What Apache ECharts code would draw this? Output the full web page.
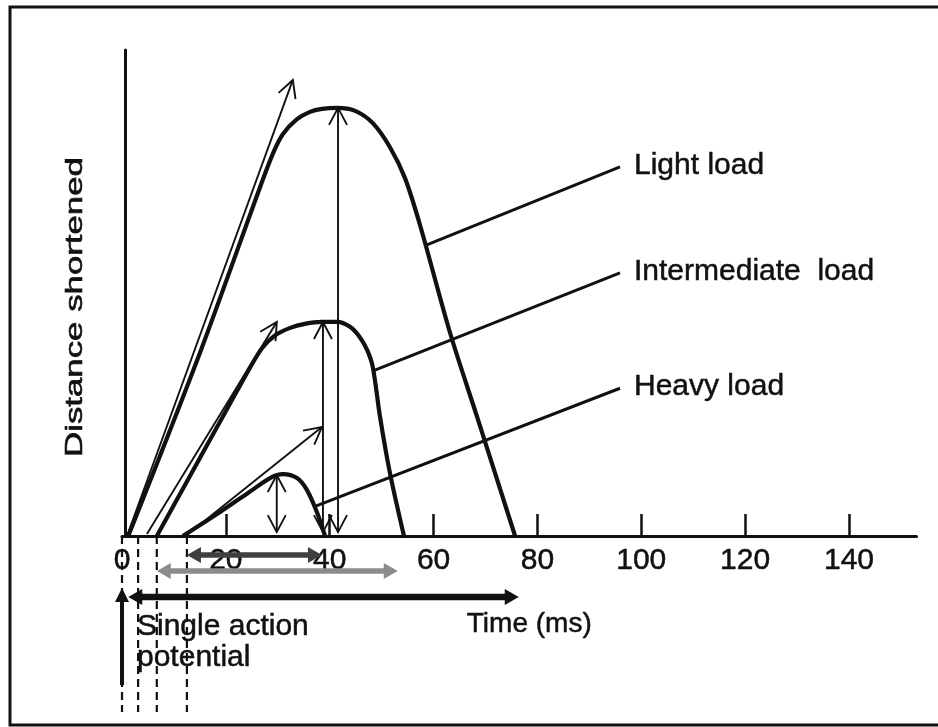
<!DOCTYPE html>
<html>
<head>
<meta charset="utf-8">
<script src="https://cdn.jsdelivr.net/npm/echarts@6/dist/echarts.min.js"></script>
<style>
  html, body { margin: 0; padding: 0; background: #fff; }
  #chart { width: 938px; height: 727px; }
</style>
</head>
<body>
<div id="chart"></div>
<script>
// Time axis (ms)
const timeTicks = [0, 20, 40, 60, 80, 100, 120, 140];
const tickMarks = [20, 40, 60, 80, 100, 120, 140];

// Distance shortened (arbitrary units) against time (ms) for three loads
const lightTime = [1.2, 15.0, 26.6, 29.1, 31.0, 33.7, 36.2, 38.5, 41.4, 44.9, 48.3, 51.6, 54.5, 57.4, 63.2, 68.4, 75.7];
const lightDist = [0, 37.3, 71.1, 78.0, 81.9, 84.9, 86.4, 87.0, 87.2, 86.6, 84.1, 79.2, 72.9, 63.3, 41.3, 24.2, 0];

const interTime = [6.7, 18.3, 24.6, 27.0, 29.5, 32.4, 35.2, 38.5, 41.4, 43.9, 45.8, 47.2, 48.3, 49.7, 51.6, 54.3];
const interDist = [0, 22.2, 34.2, 38.3, 40.9, 42.4, 43.2, 43.6, 43.6, 42.6, 40.5, 37.9, 34.4, 24.2, 12.8, 0];

const heavyTime = [11.7, 18.9, 24.6, 28.5, 31.0, 33.7, 35.6, 37.6, 39.1];
const heavyDist = [0, 4.9, 9.0, 11.8, 12.6, 11.8, 9.4, 4.7, 0];

// Initial shortening velocity: [t0, d0, t1, d1]
const slopeArrows = [
  [0.96, 0, 32.9, 92.9],
  [4.8, 0.4, 29.8, 43.6],
  [12.5, 0.2, 38.5, 22.2]
];
// Peak shortening: [t, dTop, dBottom]
const peakArrows = [
  [41.6, 87.2, 0.8],
  [38.7, 43.6, 0.8],
  [29.8, 12.4, 0.8]
];

// Load names with their leader lines (from curve to label)
const loadNames = ['Light load', 'Intermediate  load', 'Heavy load'];
const leaderFrom = [[58.7, 59.3], [48.7, 33.8], [36.8, 5.9]];
const leaderTo = [[95.9, 75.2], [95.9, 53.6], [95.9, 30.1]];

// Onset of shortening (ms) and the duration spans below the axis
const onsetTimes = [0, 3.1, 6.7, 12.5];
const spanStart = [12.5, 6.7, 1.2];
const spanEnd = [38.5, 53.1, 76.4];

const stimulusLabel = 'Single action\npotential';

const ink = '#111';
const FONT = '"Liberation Sans", Arial, Helvetica, sans-serif';
const spanColors = ['#3f3f3f', '#8c8c8c', '#111'];
const spanRows = [19, 35, 61];
const spanWidths = [5.5, 5.5, 6.5];
const textWeight = 0.5;

function zip(a, b) { return a.map((v, i) => [v, b[i]]); }

function headPoints(tip, tail, len, half) {
  const dx = tip[0] - tail[0], dy = tip[1] - tail[1];
  const L = Math.hypot(dx, dy) || 1;
  const ux = dx / L, uy = dy / L;
  const bx = tip[0] - ux * len, by = tip[1] - uy * len;
  return { base: [bx, by], left: [bx - uy * half, by + ux * half], right: [bx + uy * half, by - ux * half] };
}

function openHead(tip, tail) {
  const h = headPoints(tip, tail, 17, 9);
  return { type: 'polyline', shape: { points: [h.left, tip, h.right] },
           style: { stroke: ink, lineWidth: 1.9, fill: null } };
}

function thinLine(a, b) {
  return { type: 'line', shape: { x1: a[0], y1: a[1], x2: b[0], y2: b[1] },
           style: { stroke: ink, lineWidth: 1.9 } };
}

function curve(name, t, d) {
  return {
    name, type: 'line', data: zip(t, d), showSymbol: false, smooth: 0.3,
    lineStyle: { color: ink, width: 4.2 }, z: 3, silent: true
  };
}

const chart = echarts.init(document.getElementById('chart'));

chart.setOption({
  animation: false,
  backgroundColor: '#fff',
  grid: { left: 122, right: 21.5, top: 50, bottom: 191 },
  xAxis: {
    type: 'value', min: 0, max: 153,
    name: 'Time (ms)', nameLocation: 'middle', nameGap: 74,
    nameTextStyle: { fontSize: 28, color: ink, fontFamily: FONT, padding: [0, 0, 0, 20],
                     textBorderColor: ink, textBorderWidth: textWeight },
    splitLine: { show: false },
    axisLine: { lineStyle: { color: ink, width: 3 } },
    axisTick: { inside: true, length: 22, customValues: tickMarks, lineStyle: { color: ink, width: 2.5 } },
    axisLabel: { customValues: timeTicks, fontSize: 30, color: ink, fontFamily: FONT, margin: 10,
                 textBorderColor: ink, textBorderWidth: textWeight }
  },
  yAxis: {
    type: 'value', min: 0, max: 99, offset: -3,
    splitLine: { show: false },
    axisLine: { show: true, lineStyle: { color: ink, width: 3 } },
    axisTick: { show: false },
    axisLabel: { show: false }
  },
  graphic: [
    { type: 'rect', silent: true, shape: { x: 10, y: 7, width: 940, height: 718 },
      style: { stroke: ink, lineWidth: 3, fill: null } },
    { type: 'text', x: 75, y: 307, rotation: Math.PI / 2, scaleX: 1.45, silent: true,
      style: { text: 'Distance shortened', font: '24px ' + FONT, fill: ink,
               stroke: ink, lineWidth: 0.6, align: 'center', verticalAlign: 'middle' } }
  ],
  series: [
    curve('Light load', lightTime, lightDist),
    curve('Intermediate load', interTime, interDist),
    curve('Heavy load', heavyTime, heavyDist),
    {
      name: 'Shortening velocity', type: 'custom', clip: false, silent: true, z: 4,
      data: slopeArrows,
      renderItem: (params, api) => {
        const a = api.coord([api.value(0), api.value(1)]);
        const b = api.coord([api.value(2), api.value(3)]);
        return { type: 'group', children: [thinLine(a, b), openHead(b, a)] };
      }
    },
    {
      name: 'Peak shortening', type: 'custom', clip: false, silent: true, z: 4,
      data: peakArrows,
      renderItem: (params, api) => {
        const a = api.coord([api.value(0), api.value(1)]);
        const b = api.coord([api.value(0), api.value(2)]);
        return { type: 'group', children: [thinLine(a, b), openHead(a, b), openHead(b, a)] };
      }
    },
    {
      name: 'Load labels', type: 'custom', clip: false, silent: true, z: 4,
      data: leaderFrom.map((p, i) => [p[0], p[1], leaderTo[i][0], leaderTo[i][1]]),
      renderItem: (params, api) => {
        const a = api.coord([api.value(0), api.value(1)]);
        const b = api.coord([api.value(2), api.value(3)]);
        return { type: 'group', children: [
          { type: 'line', shape: { x1: a[0], y1: a[1], x2: b[0], y2: b[1] },
            style: { stroke: ink, lineWidth: 3 } },
          { type: 'text', style: { text: loadNames[params.dataIndex], x: b[0] + 14, y: b[1] - 1.5,
            font: '30px ' + FONT, fill: ink, stroke: ink, lineWidth: textWeight,
            align: 'left', verticalAlign: 'middle' } }
        ] };
      }
    },
    {
      name: 'Onsets', type: 'custom', clip: false, silent: true, z: 4,
      data: onsetTimes.map(t => [t]),
      renderItem: (params, api) => {
        const p = api.coord([api.value(0), 0]);
        return { type: 'line', shape: { x1: p[0], y1: p[1], x2: p[0], y2: p[1] + 176 },
                 style: { stroke: ink, lineWidth: 2.2, lineDash: [8, 5] } };
      }
    },
    {
      name: 'Durations', type: 'custom', clip: false, silent: true, z: 5,
      data: spanStart.map((s, i) => [s, spanEnd[i]]),
      renderItem: (params, api) => {
        const i = params.dataIndex;
        const y = api.coord([0, 0])[1] + spanRows[i];
        const x0 = api.coord([api.value(0), 0])[0];
        const x1 = api.coord([api.value(1), 0])[0];
        const c = spanColors[i], hl = 14, hw = 8;
        return { type: 'group', children: [
          { type: 'line', shape: { x1: x0 + hl - 1, y1: y, x2: x1 - hl + 1, y2: y },
            style: { stroke: c, lineWidth: spanWidths[i] } },
          { type: 'polygon', shape: { points: [[x0, y], [x0 + hl, y - hw], [x0 + hl, y + hw]] }, style: { fill: c } },
          { type: 'polygon', shape: { points: [[x1, y], [x1 - hl, y - hw], [x1 - hl, y + hw]] }, style: { fill: c } }
        ] };
      }
    },
    {
      name: 'Stimulus', type: 'custom', clip: false, silent: true, z: 5,
      data: [[0]],
      renderItem: (params, api) => {
        const p = api.coord([api.value(0), 0]);
        const tipY = p[1] + 52, endY = p[1] + 149, hl = 14, hw = 7;
        return { type: 'group', children: [
          { type: 'line', shape: { x1: p[0], y1: endY, x2: p[0], y2: tipY + hl - 1 },
            style: { stroke: ink, lineWidth: 4 } },
          { type: 'polygon', shape: { points: [[p[0], tipY], [p[0] - hw, tipY + hl], [p[0] + hw, tipY + hl]] },
            style: { fill: ink } },
          { type: 'text', style: { text: stimulusLabel, x: p[0] + 15, y: p[1] + 75,
            font: '30px ' + FONT, lineHeight: 31, fill: ink, stroke: ink, lineWidth: textWeight,
            align: 'left', verticalAlign: 'top' } }
        ] };
      }
    }
  ]
});
</script>
</body>
</html>
